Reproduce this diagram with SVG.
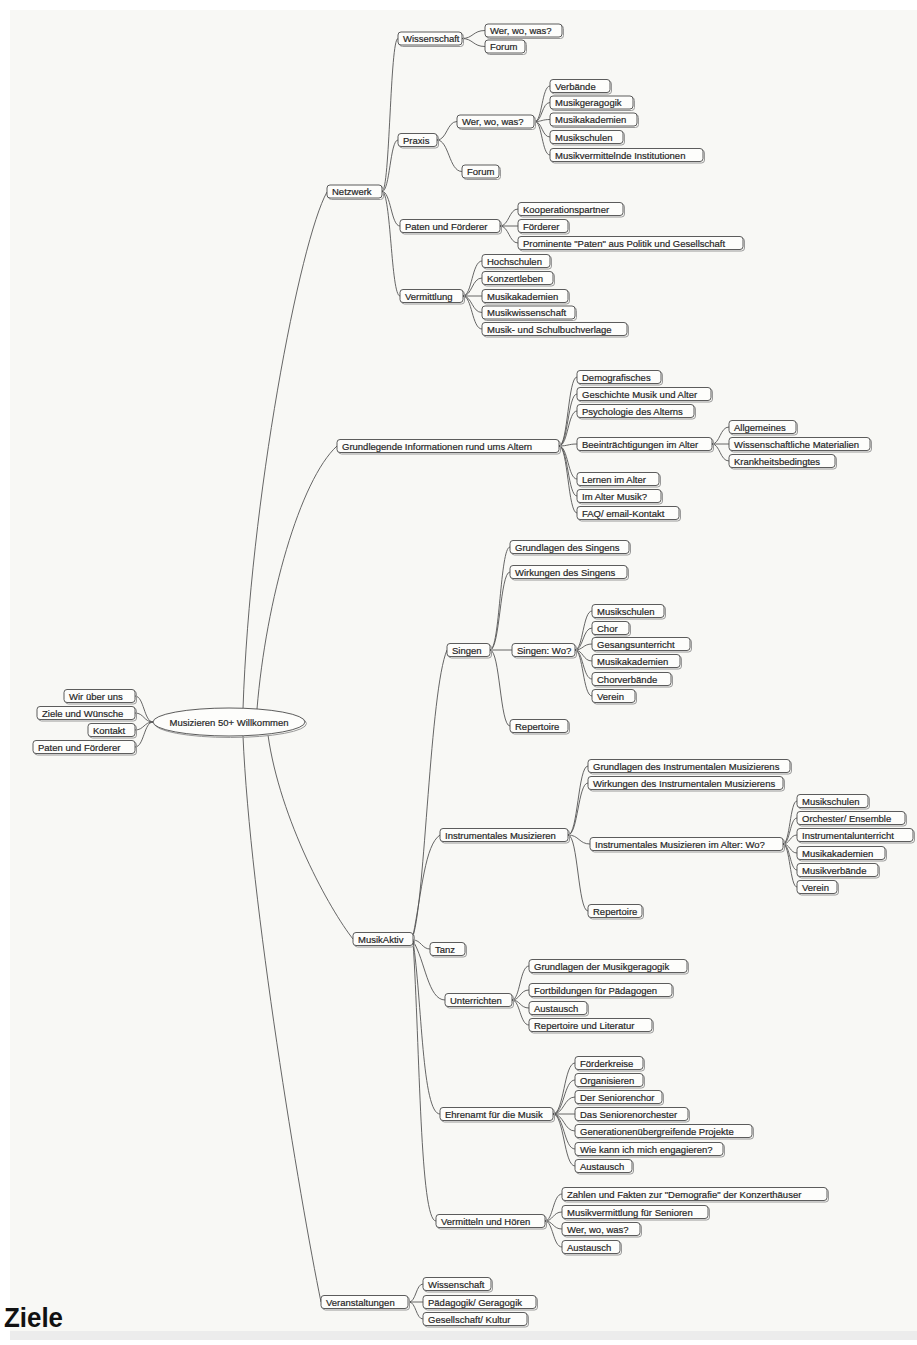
<svg xmlns="http://www.w3.org/2000/svg" width="917" height="1345" viewBox="0 0 917 1345">
<style>
.sh{fill:none;stroke:#9a9a9a;stroke-width:1}
.bx{fill:#fdfdfb;stroke:#4a4a4a;stroke-width:0.9}
.t{font-family:"Liberation Sans",Arial,sans-serif;font-size:9.5px;fill:#1e1e1e;stroke:#2a2a2a;stroke-width:0.2}
.c{fill:none;stroke:#555;stroke-width:0.9}
</style>
<rect x="0" y="0" width="917" height="1345" fill="#ffffff"/>
<rect x="10" y="10" width="907" height="1321" fill="#f8f8f5"/>
<rect x="10" y="1331" width="907" height="9" fill="#ececec"/>
<text x="4" y="1327" font-family="Liberation Sans,Arial,sans-serif" font-size="28" font-weight="bold" fill="#111" textLength="59" lengthAdjust="spacingAndGlyphs">Ziele</text>

<g id="connectors" class="c">
<path d="M135,696 C144,696 144,722 153,722"/>
<path d="M135,713 C144,713 144,722 153,722"/>
<path d="M135,730 C144,730 144,722 153,722"/>
<path d="M135,747 C144,747 144,722 153,722"/>
<path d="M243,709 C250,500 300,240 327,192"/>
<path d="M257,709 C266,600 300,480 337,446"/>
<path d="M268,735 C280,820 330,910 353,939"/>
<path d="M243,736 C250,900 300,1200 321,1302"/>
<path d="M382,191.5 C390,191.5 390,38.5 398,38.5"/>
<path d="M382,191.5 C390,191.5 390,140 398,140"/>
<path d="M382,191.5 C391,191.5 391,226 400,226"/>
<path d="M382,191.5 C391,191.5 391,296 400,296"/>
<path d="M462,38.5 C473,38.5 473,30.5 485,30.5"/>
<path d="M462,38.5 C473,38.5 473,46.5 485,46.5"/>
<path d="M437,140 C447,140 447,121.5 457,121.5"/>
<path d="M437,140 C449,140 449,171.5 462,171.5"/>
<path d="M535,121.5 C542,121.5 542,86 550,86"/>
<path d="M535,121.5 C542,121.5 542,102.5 550,102.5"/>
<path d="M535,121.5 C542,121.5 542,119.5 550,119.5"/>
<path d="M535,121.5 C542,121.5 542,137 550,137"/>
<path d="M535,121.5 C542,121.5 542,155 550,155"/>
<path d="M500,226 C509,226 509,209 518,209"/>
<path d="M500,226 L518,226"/>
<path d="M500,226 C509,226 509,243 518,243"/>
<path d="M463,296 C472,296 472,261 482,261"/>
<path d="M463,296 C472,296 472,278 482,278"/>
<path d="M463,296 L482,296"/>
<path d="M463,296 C472,296 472,312.5 482,312.5"/>
<path d="M463,296 C472,296 472,329 482,329"/>
<path d="M559,446 C568,446 568,377 577,377"/>
<path d="M559,446 C568,446 568,394 577,394"/>
<path d="M559,446 C568,446 568,411 577,411"/>
<path d="M559,446 C568,446 568,444 577,444"/>
<path d="M559,446 C568,446 568,479 577,479"/>
<path d="M559,446 C568,446 568,496 577,496"/>
<path d="M559,446 C568,446 568,513 577,513"/>
<path d="M712,444 C720,444 720,427 729,427"/>
<path d="M712,444 L729,444"/>
<path d="M712,444 C720,444 720,461 729,461"/>
<path d="M413,936 C425,900 430,690 447,650"/>
<path d="M413,936 C422,890 425,845 440,835"/>
<path d="M413,940 C421,940 422,949 430,949"/>
<path d="M413,941 C425,960 428,1000 445,1000"/>
<path d="M413,941 C422,1000 422,1114 440,1114"/>
<path d="M413,941 C420,1050 420,1221 436,1221"/>
<path d="M490,650 C500,650 500,547 510,547"/>
<path d="M490,650 C500,650 500,572 510,572"/>
<path d="M490,650 L512,650"/>
<path d="M490,650 C500,650 500,726 510,726"/>
<path d="M575,650 C583,650 583,611 592,611"/>
<path d="M575,650 C583,650 583,628 592,628"/>
<path d="M575,650 C583,650 583,644 592,644"/>
<path d="M575,650 C583,650 583,661 592,661"/>
<path d="M575,650 C583,650 583,679 592,679"/>
<path d="M575,650 C583,650 583,696 592,696"/>
<path d="M568,835 C578,835 578,766 588,766"/>
<path d="M568,835 C578,835 578,783 588,783"/>
<path d="M568,835 C579,835 579,844 590,844"/>
<path d="M568,835 C578,835 578,911 588,911"/>
<path d="M783,844 C790,844 790,801 797,801"/>
<path d="M783,844 C790,844 790,818 797,818"/>
<path d="M783,844 C790,844 790,835 797,835"/>
<path d="M783,844 C790,844 790,853 797,853"/>
<path d="M783,844 C790,844 790,870 797,870"/>
<path d="M783,844 C790,844 790,887 797,887"/>
<path d="M512,1000 C520,1000 520,966 529,966"/>
<path d="M512,1000 C520,1000 520,990 529,990"/>
<path d="M512,1000 C520,1000 520,1008 529,1008"/>
<path d="M512,1000 C520,1000 520,1025 529,1025"/>
<path d="M553,1114 C564,1114 564,1063 575,1063"/>
<path d="M553,1114 C564,1114 564,1080 575,1080"/>
<path d="M553,1114 C564,1114 564,1097 575,1097"/>
<path d="M553,1114 L575,1114"/>
<path d="M553,1114 C564,1114 564,1131 575,1131"/>
<path d="M553,1114 C564,1114 564,1149 575,1149"/>
<path d="M553,1114 C564,1114 564,1166 575,1166"/>
<path d="M545,1221 C553,1221 553,1194 562,1194"/>
<path d="M545,1221 C553,1221 553,1212 562,1212"/>
<path d="M545,1221 C553,1221 553,1229 562,1229"/>
<path d="M545,1221 C553,1221 553,1247 562,1247"/>
<path d="M409,1302 C416,1302 416,1284 423,1284"/>
<path d="M409,1302 L423,1302"/>
<path d="M409,1302 C416,1302 416,1319 423,1319"/>
</g>

<g id="root">
<ellipse cx="230.5" cy="723.5" rx="76" ry="14" class="sh"/>
<ellipse cx="229" cy="722" rx="76" ry="14" class="bx"/>
<text x="229" y="725.5" class="t" text-anchor="middle">Musizieren 50+ Willkommen</text>
</g>

<g id="n-wir"><rect x="65.5" y="691" width="71" height="13" rx="3" class="sh"/><rect x="64" y="689.5" width="71" height="13" rx="3" class="bx"/><text x="69" y="699.5" class="t">Wir über uns</text></g>
<g id="n-ziele"><rect x="38.5" y="708" width="98" height="13" rx="3" class="sh"/><rect x="37" y="706.5" width="98" height="13" rx="3" class="bx"/><text x="42" y="716.5" class="t">Ziele und Wünsche</text></g>
<g id="n-kontakt"><rect x="89.5" y="725" width="47" height="13" rx="3" class="sh"/><rect x="88" y="723.5" width="47" height="13" rx="3" class="bx"/><text x="93" y="733.5" class="t">Kontakt</text></g>
<g id="n-paten-root"><rect x="34.5" y="742" width="102" height="13" rx="3" class="sh"/><rect x="33" y="740.5" width="102" height="13" rx="3" class="bx"/><text x="38" y="750.5" class="t">Paten und Förderer</text></g>

<g id="n-netzwerk"><rect x="328.5" y="186.5" width="55" height="13" rx="3" class="sh"/><rect x="327" y="185" width="55" height="13" rx="3" class="bx"/><text x="332" y="195" class="t">Netzwerk</text></g>
<g id="n-wissenschaft"><rect x="399.5" y="33.5" width="64" height="13" rx="3" class="sh"/><rect x="398" y="32" width="64" height="13" rx="3" class="bx"/><text x="403" y="42" class="t">Wissenschaft</text></g>
<g id="n-wiss-wer"><rect x="486.5" y="25.5" width="77" height="13" rx="3" class="sh"/><rect x="485" y="24" width="77" height="13" rx="3" class="bx"/><text x="490" y="34" class="t">Wer, wo, was?</text></g>
<g id="n-wiss-forum"><rect x="486.5" y="41.5" width="40" height="13" rx="3" class="sh"/><rect x="485" y="40" width="40" height="13" rx="3" class="bx"/><text x="490" y="50" class="t">Forum</text></g>
<g id="n-praxis"><rect x="399.5" y="135" width="39" height="13" rx="3" class="sh"/><rect x="398" y="133.5" width="39" height="13" rx="3" class="bx"/><text x="403" y="143.5" class="t">Praxis</text></g>
<g id="n-praxis-wer"><rect x="458.5" y="116.5" width="77" height="13" rx="3" class="sh"/><rect x="457" y="115" width="77" height="13" rx="3" class="bx"/><text x="462" y="125" class="t">Wer, wo, was?</text></g>
<g id="n-verbaende"><rect x="551.5" y="81" width="60" height="13" rx="3" class="sh"/><rect x="550" y="79.5" width="60" height="13" rx="3" class="bx"/><text x="555" y="89.5" class="t">Verbände</text></g>
<g id="n-musikgeragogik"><rect x="551.5" y="97.5" width="83" height="13" rx="3" class="sh"/><rect x="550" y="96" width="83" height="13" rx="3" class="bx"/><text x="555" y="106" class="t">Musikgeragogik</text></g>
<g id="n-musikakademien1"><rect x="551.5" y="114.5" width="87" height="13" rx="3" class="sh"/><rect x="550" y="113" width="87" height="13" rx="3" class="bx"/><text x="555" y="123" class="t">Musikakademien</text></g>
<g id="n-musikschulen1"><rect x="551.5" y="132" width="73" height="13" rx="3" class="sh"/><rect x="550" y="130.5" width="73" height="13" rx="3" class="bx"/><text x="555" y="140.5" class="t">Musikschulen</text></g>
<g id="n-musikvermittelnde"><rect x="551.5" y="150" width="153" height="13" rx="3" class="sh"/><rect x="550" y="148.5" width="153" height="13" rx="3" class="bx"/><text x="555" y="158.5" class="t">Musikvermittelnde Institutionen</text></g>
<g id="n-praxis-forum"><rect x="463.5" y="166.5" width="37" height="13" rx="3" class="sh"/><rect x="462" y="165" width="37" height="13" rx="3" class="bx"/><text x="467" y="175" class="t">Forum</text></g>
<g id="n-paten"><rect x="401.5" y="221" width="100" height="13" rx="3" class="sh"/><rect x="400" y="219.5" width="100" height="13" rx="3" class="bx"/><text x="405" y="229.5" class="t">Paten und Förderer</text></g>
<g id="n-kooperation"><rect x="519.5" y="204" width="105" height="13" rx="3" class="sh"/><rect x="518" y="202.5" width="105" height="13" rx="3" class="bx"/><text x="523" y="212.5" class="t">Kooperationspartner</text></g>
<g id="n-foerderer"><rect x="519.5" y="221" width="50" height="13" rx="3" class="sh"/><rect x="518" y="219.5" width="50" height="13" rx="3" class="bx"/><text x="523" y="229.5" class="t">Förderer</text></g>
<g id="n-prominente"><rect x="519.5" y="238" width="225" height="13" rx="3" class="sh"/><rect x="518" y="236.5" width="225" height="13" rx="3" class="bx"/><text x="523" y="246.5" class="t">Prominente "Paten" aus Politik und Gesellschaft</text></g>
<g id="n-vermittlung"><rect x="401.5" y="291" width="63" height="13" rx="3" class="sh"/><rect x="400" y="289.5" width="63" height="13" rx="3" class="bx"/><text x="405" y="299.5" class="t">Vermittlung</text></g>
<g id="n-hochschulen"><rect x="483.5" y="256" width="68" height="13" rx="3" class="sh"/><rect x="482" y="254.5" width="68" height="13" rx="3" class="bx"/><text x="487" y="264.5" class="t">Hochschulen</text></g>
<g id="n-konzertleben"><rect x="483.5" y="273" width="71" height="13" rx="3" class="sh"/><rect x="482" y="271.5" width="71" height="13" rx="3" class="bx"/><text x="487" y="281.5" class="t">Konzertleben</text></g>
<g id="n-musikakademien2"><rect x="483.5" y="291" width="86" height="13" rx="3" class="sh"/><rect x="482" y="289.5" width="86" height="13" rx="3" class="bx"/><text x="487" y="299.5" class="t">Musikakademien</text></g>
<g id="n-musikwissenschaft"><rect x="483.5" y="307.5" width="93" height="13" rx="3" class="sh"/><rect x="482" y="306" width="93" height="13" rx="3" class="bx"/><text x="487" y="316" class="t">Musikwissenschaft</text></g>
<g id="n-verlage"><rect x="483.5" y="324" width="145" height="13" rx="3" class="sh"/><rect x="482" y="322.5" width="145" height="13" rx="3" class="bx"/><text x="487" y="332.5" class="t">Musik- und Schulbuchverlage</text></g>

<g id="n-grundlegende"><rect x="338.5" y="441" width="222" height="13" rx="3" class="sh"/><rect x="337" y="439.5" width="222" height="13" rx="3" class="bx"/><text x="342" y="449.5" class="t">Grundlegende Informationen rund ums Altern</text></g>
<g id="n-demografisches"><rect x="578.5" y="372" width="84" height="13" rx="3" class="sh"/><rect x="577" y="370.5" width="84" height="13" rx="3" class="bx"/><text x="582" y="380.5" class="t">Demografisches</text></g>
<g id="n-geschichte"><rect x="578.5" y="389" width="134" height="13" rx="3" class="sh"/><rect x="577" y="387.5" width="134" height="13" rx="3" class="bx"/><text x="582" y="397.5" class="t">Geschichte Musik und Alter</text></g>
<g id="n-psychologie"><rect x="578.5" y="406" width="117" height="13" rx="3" class="sh"/><rect x="577" y="404.5" width="117" height="13" rx="3" class="bx"/><text x="582" y="414.5" class="t">Psychologie des Alterns</text></g>
<g id="n-beeintraechtigungen"><rect x="578.5" y="439" width="135" height="13" rx="3" class="sh"/><rect x="577" y="437.5" width="135" height="13" rx="3" class="bx"/><text x="582" y="447.5" class="t">Beeinträchtigungen im Alter</text></g>
<g id="n-allgemeines"><rect x="730.5" y="422" width="67" height="13" rx="3" class="sh"/><rect x="729" y="420.5" width="67" height="13" rx="3" class="bx"/><text x="734" y="430.5" class="t">Allgemeines</text></g>
<g id="n-materialien"><rect x="730.5" y="439" width="141" height="13" rx="3" class="sh"/><rect x="729" y="437.5" width="141" height="13" rx="3" class="bx"/><text x="734" y="447.5" class="t">Wissenschaftliche Materialien</text></g>
<g id="n-krankheit"><rect x="730.5" y="456" width="106" height="13" rx="3" class="sh"/><rect x="729" y="454.5" width="106" height="13" rx="3" class="bx"/><text x="734" y="464.5" class="t">Krankheitsbedingtes</text></g>
<g id="n-lernen"><rect x="578.5" y="474" width="82" height="13" rx="3" class="sh"/><rect x="577" y="472.5" width="82" height="13" rx="3" class="bx"/><text x="582" y="482.5" class="t">Lernen im Alter</text></g>
<g id="n-imalter"><rect x="578.5" y="491" width="84" height="13" rx="3" class="sh"/><rect x="577" y="489.5" width="84" height="13" rx="3" class="bx"/><text x="582" y="499.5" class="t">Im Alter Musik?</text></g>
<g id="n-faq"><rect x="578.5" y="508" width="102" height="13" rx="3" class="sh"/><rect x="577" y="506.5" width="102" height="13" rx="3" class="bx"/><text x="582" y="516.5" class="t">FAQ/ email-Kontakt</text></g>

<g id="n-musikaktiv"><rect x="354.5" y="934" width="60" height="13" rx="3" class="sh"/><rect x="353" y="932.5" width="60" height="13" rx="3" class="bx"/><text x="358" y="942.5" class="t">MusikAktiv</text></g>
<g id="n-singen"><rect x="448.5" y="645" width="43" height="13" rx="3" class="sh"/><rect x="447" y="643.5" width="43" height="13" rx="3" class="bx"/><text x="452" y="653.5" class="t">Singen</text></g>
<g id="n-grundlagen-singen"><rect x="511.5" y="542" width="119" height="13" rx="3" class="sh"/><rect x="510" y="540.5" width="119" height="13" rx="3" class="bx"/><text x="515" y="550.5" class="t">Grundlagen des Singens</text></g>
<g id="n-wirkungen-singen"><rect x="511.5" y="567" width="117" height="13" rx="3" class="sh"/><rect x="510" y="565.5" width="117" height="13" rx="3" class="bx"/><text x="515" y="575.5" class="t">Wirkungen des Singens</text></g>
<g id="n-singen-wo"><rect x="513.5" y="645" width="63" height="13" rx="3" class="sh"/><rect x="512" y="643.5" width="63" height="13" rx="3" class="bx"/><text x="517" y="653.5" class="t">Singen: Wo?</text></g>
<g id="n-s-musikschulen"><rect x="593.5" y="606" width="72" height="13" rx="3" class="sh"/><rect x="592" y="604.5" width="72" height="13" rx="3" class="bx"/><text x="597" y="614.5" class="t">Musikschulen</text></g>
<g id="n-chor"><rect x="593.5" y="623" width="37" height="13" rx="3" class="sh"/><rect x="592" y="621.5" width="37" height="13" rx="3" class="bx"/><text x="597" y="631.5" class="t">Chor</text></g>
<g id="n-gesang"><rect x="593.5" y="639" width="98" height="13" rx="3" class="sh"/><rect x="592" y="637.5" width="98" height="13" rx="3" class="bx"/><text x="597" y="647.5" class="t">Gesangsunterricht</text></g>
<g id="n-s-akademien"><rect x="593.5" y="656" width="88" height="13" rx="3" class="sh"/><rect x="592" y="654.5" width="88" height="13" rx="3" class="bx"/><text x="597" y="664.5" class="t">Musikakademien</text></g>
<g id="n-chorverbaende"><rect x="593.5" y="674" width="79" height="13" rx="3" class="sh"/><rect x="592" y="672.5" width="79" height="13" rx="3" class="bx"/><text x="597" y="682.5" class="t">Chorverbände</text></g>
<g id="n-s-verein"><rect x="593.5" y="691" width="43" height="13" rx="3" class="sh"/><rect x="592" y="689.5" width="43" height="13" rx="3" class="bx"/><text x="597" y="699.5" class="t">Verein</text></g>
<g id="n-s-repertoire"><rect x="511.5" y="721" width="58" height="13" rx="3" class="sh"/><rect x="510" y="719.5" width="58" height="13" rx="3" class="bx"/><text x="515" y="729.5" class="t">Repertoire</text></g>

<g id="n-instrumentales"><rect x="441.5" y="830" width="128" height="13" rx="3" class="sh"/><rect x="440" y="828.5" width="128" height="13" rx="3" class="bx"/><text x="445" y="838.5" class="t">Instrumentales Musizieren</text></g>
<g id="n-grundlagen-instr"><rect x="589.5" y="761" width="202" height="13" rx="3" class="sh"/><rect x="588" y="759.5" width="202" height="13" rx="3" class="bx"/><text x="593" y="769.5" class="t">Grundlagen des Instrumentalen Musizierens</text></g>
<g id="n-wirkungen-instr"><rect x="589.5" y="778" width="195" height="13" rx="3" class="sh"/><rect x="588" y="776.5" width="195" height="13" rx="3" class="bx"/><text x="593" y="786.5" class="t">Wirkungen des Instrumentalen Musizierens</text></g>
<g id="n-instr-wo"><rect x="591.5" y="839" width="193" height="13" rx="3" class="sh"/><rect x="590" y="837.5" width="193" height="13" rx="3" class="bx"/><text x="595" y="847.5" class="t">Instrumentales Musizieren im Alter: Wo?</text></g>
<g id="n-i-musikschulen"><rect x="798.5" y="796" width="71" height="13" rx="3" class="sh"/><rect x="797" y="794.5" width="71" height="13" rx="3" class="bx"/><text x="802" y="804.5" class="t">Musikschulen</text></g>
<g id="n-orchester"><rect x="798.5" y="813" width="108" height="13" rx="3" class="sh"/><rect x="797" y="811.5" width="108" height="13" rx="3" class="bx"/><text x="802" y="821.5" class="t">Orchester/ Ensemble</text></g>
<g id="n-instrumentalunterricht"><rect x="798.5" y="830" width="116" height="13" rx="3" class="sh"/><rect x="797" y="828.5" width="116" height="13" rx="3" class="bx"/><text x="802" y="838.5" class="t">Instrumentalunterricht</text></g>
<g id="n-i-akademien"><rect x="798.5" y="848" width="88" height="13" rx="3" class="sh"/><rect x="797" y="846.5" width="88" height="13" rx="3" class="bx"/><text x="802" y="856.5" class="t">Musikakademien</text></g>
<g id="n-musikverbaende"><rect x="798.5" y="865" width="81" height="13" rx="3" class="sh"/><rect x="797" y="863.5" width="81" height="13" rx="3" class="bx"/><text x="802" y="873.5" class="t">Musikverbände</text></g>
<g id="n-i-verein"><rect x="798.5" y="882" width="40" height="13" rx="3" class="sh"/><rect x="797" y="880.5" width="40" height="13" rx="3" class="bx"/><text x="802" y="890.5" class="t">Verein</text></g>
<g id="n-i-repertoire"><rect x="589.5" y="906" width="54" height="13" rx="3" class="sh"/><rect x="588" y="904.5" width="54" height="13" rx="3" class="bx"/><text x="593" y="914.5" class="t">Repertoire</text></g>

<g id="n-tanz"><rect x="431.5" y="944" width="35" height="13" rx="3" class="sh"/><rect x="430" y="942.5" width="35" height="13" rx="3" class="bx"/><text x="435" y="952.5" class="t">Tanz</text></g>
<g id="n-unterrichten"><rect x="446.5" y="995" width="67" height="13" rx="3" class="sh"/><rect x="445" y="993.5" width="67" height="13" rx="3" class="bx"/><text x="450" y="1003.5" class="t">Unterrichten</text></g>
<g id="n-grundlagen-geragogik"><rect x="530.5" y="961" width="158" height="13" rx="3" class="sh"/><rect x="529" y="959.5" width="158" height="13" rx="3" class="bx"/><text x="534" y="969.5" class="t">Grundlagen der Musikgeragogik</text></g>
<g id="n-fortbildungen"><rect x="530.5" y="985" width="143" height="13" rx="3" class="sh"/><rect x="529" y="983.5" width="143" height="13" rx="3" class="bx"/><text x="534" y="993.5" class="t">Fortbildungen für Pädagogen</text></g>
<g id="n-u-austausch"><rect x="530.5" y="1003" width="58" height="13" rx="3" class="sh"/><rect x="529" y="1001.5" width="58" height="13" rx="3" class="bx"/><text x="534" y="1011.5" class="t">Austausch</text></g>
<g id="n-repertoire-literatur"><rect x="530.5" y="1020" width="123" height="13" rx="3" class="sh"/><rect x="529" y="1018.5" width="123" height="13" rx="3" class="bx"/><text x="534" y="1028.5" class="t">Repertoire und Literatur</text></g>

<g id="n-ehrenamt"><rect x="441.5" y="1109" width="113" height="13" rx="3" class="sh"/><rect x="440" y="1107.5" width="113" height="13" rx="3" class="bx"/><text x="445" y="1117.5" class="t">Ehrenamt für die Musik</text></g>
<g id="n-foerderkreise"><rect x="576.5" y="1058" width="68" height="13" rx="3" class="sh"/><rect x="575" y="1056.5" width="68" height="13" rx="3" class="bx"/><text x="580" y="1066.5" class="t">Förderkreise</text></g>
<g id="n-organisieren"><rect x="576.5" y="1075" width="68" height="13" rx="3" class="sh"/><rect x="575" y="1073.5" width="68" height="13" rx="3" class="bx"/><text x="580" y="1083.5" class="t">Organisieren</text></g>
<g id="n-seniorenchor"><rect x="576.5" y="1092" width="87" height="13" rx="3" class="sh"/><rect x="575" y="1090.5" width="87" height="13" rx="3" class="bx"/><text x="580" y="1100.5" class="t">Der Seniorenchor</text></g>
<g id="n-seniorenorchester"><rect x="576.5" y="1109" width="113" height="13" rx="3" class="sh"/><rect x="575" y="1107.5" width="113" height="13" rx="3" class="bx"/><text x="580" y="1117.5" class="t">Das Seniorenorchester</text></g>
<g id="n-generationen"><rect x="576.5" y="1126" width="177" height="13" rx="3" class="sh"/><rect x="575" y="1124.5" width="177" height="13" rx="3" class="bx"/><text x="580" y="1134.5" class="t">Generationenübergreifende Projekte</text></g>
<g id="n-engagieren"><rect x="576.5" y="1144" width="148" height="13" rx="3" class="sh"/><rect x="575" y="1142.5" width="148" height="13" rx="3" class="bx"/><text x="580" y="1152.5" class="t">Wie kann ich mich engagieren?</text></g>
<g id="n-e-austausch"><rect x="576.5" y="1161" width="57" height="13" rx="3" class="sh"/><rect x="575" y="1159.5" width="57" height="13" rx="3" class="bx"/><text x="580" y="1169.5" class="t">Austausch</text></g>

<g id="n-vermitteln"><rect x="437.5" y="1216" width="109" height="13" rx="3" class="sh"/><rect x="436" y="1214.5" width="109" height="13" rx="3" class="bx"/><text x="441" y="1224.5" class="t">Vermitteln und Hören</text></g>
<g id="n-zahlen"><rect x="563.5" y="1189" width="265" height="13" rx="3" class="sh"/><rect x="562" y="1187.5" width="265" height="13" rx="3" class="bx"/><text x="567" y="1197.5" class="t">Zahlen und Fakten zur "Demografie" der Konzerthäuser</text></g>
<g id="n-musikvermittlung"><rect x="563.5" y="1207" width="146" height="13" rx="3" class="sh"/><rect x="562" y="1205.5" width="146" height="13" rx="3" class="bx"/><text x="567" y="1215.5" class="t">Musikvermittlung für Senioren</text></g>
<g id="n-v-wer"><rect x="563.5" y="1224" width="78" height="13" rx="3" class="sh"/><rect x="562" y="1222.5" width="78" height="13" rx="3" class="bx"/><text x="567" y="1232.5" class="t">Wer, wo, was?</text></g>
<g id="n-v-austausch"><rect x="563.5" y="1242" width="58" height="13" rx="3" class="sh"/><rect x="562" y="1240.5" width="58" height="13" rx="3" class="bx"/><text x="567" y="1250.5" class="t">Austausch</text></g>

<g id="n-veranstaltungen"><rect x="322.5" y="1297" width="87" height="13" rx="3" class="sh"/><rect x="321" y="1295.5" width="87" height="13" rx="3" class="bx"/><text x="326" y="1305.5" class="t">Veranstaltungen</text></g>
<g id="n-va-wissenschaft"><rect x="424.5" y="1279" width="68" height="13" rx="3" class="sh"/><rect x="423" y="1277.5" width="68" height="13" rx="3" class="bx"/><text x="428" y="1287.5" class="t">Wissenschaft</text></g>
<g id="n-paedagogik"><rect x="424.5" y="1297" width="113" height="13" rx="3" class="sh"/><rect x="423" y="1295.5" width="113" height="13" rx="3" class="bx"/><text x="428" y="1305.5" class="t">Pädagogik/ Geragogik</text></g>
<g id="n-gesellschaft"><rect x="424.5" y="1314" width="104" height="13" rx="3" class="sh"/><rect x="423" y="1312.5" width="104" height="13" rx="3" class="bx"/><text x="428" y="1322.5" class="t">Gesellschaft/ Kultur</text></g>
</svg>
